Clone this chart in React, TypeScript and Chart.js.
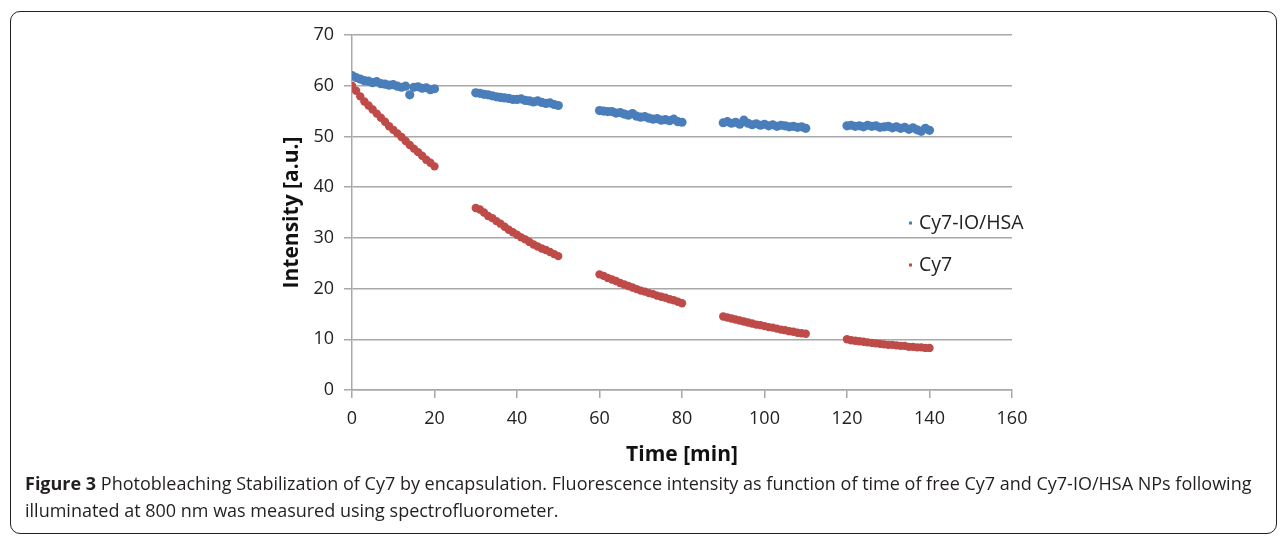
import React, { useEffect, useRef } from "react";
import { Chart, registerables } from "chart.js";

Chart.register(...registerables);

const seriesNames = ["Cy7-IO/HSA", "Cy7"];
const seriesColors = ["#4a7ebb", "#be4b48"];

const times = [
  0, 1, 2, 3, 4, 5, 6, 7, 8, 9, 10, 11, 12, 13, 14, 15, 16, 17, 18, 19, 20,
  30, 31, 32, 33, 34, 35, 36, 37, 38, 39, 40, 41, 42, 43, 44, 45, 46, 47, 48, 49, 50,
  60, 61, 62, 63, 64, 65, 66, 67, 68, 69, 70, 71, 72, 73, 74, 75, 76, 77, 78, 79, 80,
  90, 91, 92, 93, 94, 95, 96, 97, 98, 99, 100, 101, 102, 103, 104, 105, 106, 107, 108, 109, 110,
  120, 121, 122, 123, 124, 125, 126, 127, 128, 129, 130, 131, 132, 133, 134, 135, 136, 137, 138, 139, 140,
];

const cy7IoHsa = [
  62.0, 61.6, 61.3, 61.0, 60.9, 60.6, 60.8, 60.4, 60.3, 60.1, 60.2, 59.9, 59.7, 59.9, 58.2, 59.7, 59.8, 59.5, 59.6, 59.2, 59.4,
  58.6, 58.5, 58.3, 58.2, 58.0, 57.8, 57.7, 57.6, 57.5, 57.3, 57.3, 57.4, 57.1, 57.0, 56.8, 57.0, 56.7, 56.5, 56.6, 56.3, 56.1,
  55.1, 55.0, 54.9, 54.9, 54.6, 54.7, 54.4, 54.2, 54.5, 54.0, 53.8, 53.9, 53.6, 53.4, 53.5, 53.2, 53.3, 53.1, 53.4, 52.9, 52.8,
  52.7, 52.9, 52.6, 52.8, 52.4, 53.2, 52.6, 52.3, 52.5, 52.2, 52.4, 52.1, 52.3, 52.0, 52.2, 52.1, 51.9, 52.0, 51.8, 51.9, 51.6,
  52.1, 52.2, 52.0, 52.1, 51.9, 52.2, 52.0, 52.1, 51.8, 51.9, 52.0, 51.7, 51.9, 51.6, 51.8, 51.4, 51.7, 51.3, 51.0, 51.6, 51.2,
];

const cy7 = [
  60.0, 59.0, 57.9, 56.9, 56.1, 55.3, 54.5, 53.7, 52.9, 52.0, 51.3, 50.6, 49.9, 49.1, 48.3, 47.6, 46.9, 46.2, 45.4, 44.8, 44.1,
  35.9, 35.6, 35.0, 34.3, 33.9, 33.3, 32.8, 32.2, 31.6, 31.1, 30.6, 30.1, 29.7, 29.2, 28.7, 28.3, 27.9, 27.6, 27.2, 26.8, 26.4,
  22.8, 22.5, 22.1, 21.8, 21.5, 21.1, 20.8, 20.5, 20.2, 19.9, 19.6, 19.4, 19.1, 18.9, 18.6, 18.4, 18.2, 17.9, 17.7, 17.4, 17.1,
  14.5, 14.3, 14.1, 13.9, 13.7, 13.5, 13.3, 13.1, 12.9, 12.8, 12.6, 12.4, 12.3, 12.1, 11.9, 11.8, 11.6, 11.5, 11.3, 11.2, 11.1,
  10.0, 9.8, 9.7, 9.6, 9.5, 9.4, 9.3, 9.2, 9.1, 9.0, 8.9, 8.9, 8.8, 8.7, 8.7, 8.5, 8.5, 8.4, 8.4, 8.3, 8.3,
];

const xTitle = "Time [min]";
const yTitle = "Intensity [a.u.]";
const captionBold = "Figure 3";
const captionLine1 =
  " Photobleaching Stabilization of Cy7 by encapsulation. Fluorescence intensity as function of time of free Cy7 and Cy7-IO/HSA NPs following";
const captionLine2 = "illuminated at 800 nm was measured using spectrofluorometer.";

const FONT = "'Open Sans', 'DejaVu Sans', sans-serif";

const legendPlugin = {
  id: "insideLegend",
  afterDatasetsDraw(chart: any) {
    const { ctx, chartArea } = chart;
    const x0 = chartArea.right - 103;
    const rows = [chartArea.top + 188, chartArea.top + 230];
    ctx.save();
    ctx.font = `19.5px ${FONT}`;
    ctx.textBaseline = "middle";
    chart.data.datasets.forEach((ds: any, i: number) => {
      const y = rows[i];
      ctx.fillStyle = ds.backgroundColor;
      ctx.fillRect(x0, y - 1.5, 3, 3);
      ctx.fillStyle = "#222";
      ctx.fillText(ds.label, x0 + 10, y);
    });
    ctx.restore();
  },
};

export default function App() {
  const canvasRef = useRef<HTMLCanvasElement>(null);

  useEffect(() => {
    const canvas = canvasRef.current;
    if (!canvas) return;
    const mk = (vals: number[]) => times.map((t, i) => ({ x: t, y: vals[i] }));
    const chart = new Chart(canvas, {
      type: "scatter",
      data: {
        datasets: [
          {
            label: seriesNames[0],
            data: mk(cy7IoHsa),
            backgroundColor: seriesColors[0],
            borderColor: seriesColors[0],
            pointStyle: "circle",
            pointRadius: 4.6,
            borderWidth: 0,
          },
          {
            label: seriesNames[1],
            data: mk(cy7),
            backgroundColor: seriesColors[1],
            borderColor: seriesColors[1],
            pointStyle: "circle",
            pointRadius: 4.2,
            borderWidth: 0,
          },
        ],
      },
      options: {
        animation: false,
        responsive: false,
        events: [],
        layout: { padding: { left: 279, right: 269, top: 35, bottom: 70 } },
        plugins: { legend: { display: false }, tooltip: { enabled: false } },
        scales: {
          x: {
            type: "linear",
            min: 0,
            max: 160,
            ticks: { stepSize: 20, color: "#222", font: { family: FONT, size: 18 }, padding: 10 },
            grid: { drawOnChartArea: false, drawTicks: true, tickLength: 8, color: "#a8a8a8", lineWidth: 1.5 },
            border: { color: "#a8a8a8", width: 1.5 },
            title: { display: true, text: xTitle, color: "#111", font: { family: FONT, size: 21, weight: "bold" }, padding: 0 },
            afterFit: (s: any) => { s.height = 78; },
          },
          y: {
            type: "linear",
            min: 0,
            max: 70,
            ticks: { stepSize: 10, color: "#222", font: { family: FONT, size: 18 }, padding: 10 },
            grid: { drawTicks: true, tickLength: 8, color: "#a8a8a8", lineWidth: 1.5 },
            border: { color: "#a8a8a8", width: 1.5 },
            title: { display: true, text: yTitle, color: "#111", font: { family: FONT, size: 21, weight: "bold" }, padding: 0 },
            afterFit: (s: any) => { s.width = 73; },
          },
        },
      },
      plugins: [legendPlugin],
    });
    return () => chart.destroy();
  }, []);

  return (
    <div style={{ position: "fixed", left: 0, top: 0, width: 1281, height: 538, background: "#fff", overflow: "hidden" }}>
      <div
        style={{
          position: "absolute",
          left: 10,
          top: 11,
          width: 1267,
          height: 523,
          border: "1.5px solid #222",
          borderRadius: 10,
          boxSizing: "border-box",
        }}
      />
      <canvas ref={canvasRef} width={1281} height={538} style={{ position: "absolute", left: 0, top: 0 }} />
      <div
        style={{
          position: "absolute",
          left: 25,
          top: 470,
          fontFamily: FONT,
          fontSize: 18,
          lineHeight: "27px",
          color: "#231f20",
          whiteSpace: "nowrap",
        }}
      >
        <div>
          <b>{captionBold}</b>
          {captionLine1}
        </div>
        <div>{captionLine2}</div>
      </div>
    </div>
  );
}
